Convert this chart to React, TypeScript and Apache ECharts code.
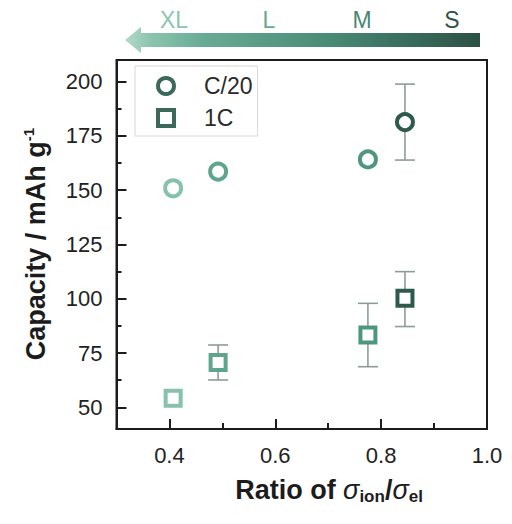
import React, { useEffect, useRef } from 'react';
import * as echarts from 'echarts';

// Particle size classes (top arrow), from largest to smallest
const sizeLabels = ['XL', 'L', 'M', 'S'];
const sizeLabelColors = ['#8ec3b0', '#66a892', '#4a8774', '#2f5447'];
const sizeColors = ['#86c1ab', '#5ea58c', '#4f9681', '#2e5a4d'];

// Ratio of sigma_ion / sigma_el
const ratio = [0.407, 0.492, 0.775, 0.845];

// Capacity at C/20
const capC20 = [150.9, 158.6, 164.2, 181.4];
const errC20Low = [150.9, 158.6, 164.2, 163.9];
const errC20High = [150.9, 158.6, 164.2, 198.9];

// Capacity at 1C
const cap1C = [54.2, 70.6, 83.3, 100.2];
const err1CLow = [54.2, 62.6, 68.7, 87.2];
const err1CHigh = [54.2, 78.7, 97.9, 112.5];

const yTicks = [50, 75, 100, 125, 150, 175, 200];
const yMinorTicks = [62.5, 87.5, 112.5, 137.5, 162.5, 187.5];
const xTicks = [0.4, 0.6, 0.8, 1.0];
const xMinorTicks = [0.5, 0.7, 0.9];

const seriesNames = ['C/20', '1C'];
const legendColor = '#3b6a5c';

const FONT = '"Liberation Sans", Arial, sans-serif';
const AXIS_COLOR = '#1c1c1c';

export default function App() {
  const ref = useRef<HTMLDivElement>(null);

  useEffect(() => {
    if (!ref.current) return;
    const chart = echarts.init(ref.current, null, { renderer: 'svg' });

    const gridRect = { left: 116.5, right: 25, top: 60, bottom: 95 };

    const errRender = (params: any, api: any) => {
      const x = api.value(0);
      const lo = api.value(1);
      const hi = api.value(2);
      if (lo === hi) return null;
      const pLo = api.coord([x, lo]);
      const pHi = api.coord([x, hi]);
      const hw = 10;
      const style = { stroke: '#8e9c97', lineWidth: 1.6 };
      return {
        type: 'group',
        children: [
          { type: 'line', shape: { x1: pLo[0], y1: pLo[1], x2: pHi[0], y2: pHi[1] }, style },
          { type: 'line', shape: { x1: pLo[0] - hw, y1: pLo[1], x2: pLo[0] + hw, y2: pLo[1] }, style },
          { type: 'line', shape: { x1: pHi[0] - hw, y1: pHi[1], x2: pHi[0] + hw, y2: pHi[1] }, style },
        ],
      };
    };

    const arrowPoints = [
      [125, 40], [141, 27], [141, 33], [480, 33], [480, 47], [141, 47], [141, 53],
    ];
    const labelX = [174, 269, 362, 452];

    const option: any = {
      animation: false,
      textStyle: { fontFamily: FONT },
      grid: [
        {
          ...gridRect,
          show: true,
          borderColor: AXIS_COLOR,
          borderWidth: 2,
          backgroundColor: 'transparent',
          outerBoundsMode: 'none',
        },
        { ...gridRect, show: false, outerBoundsMode: 'none' },
      ],
      xAxis: [
        {
          type: 'value',
          gridIndex: 0,
          min: 0.3,
          max: 1.0,
          splitLine: { show: false },
          axisLine: { show: true, lineStyle: { color: AXIS_COLOR, width: 2 } },
          axisTick: {
            show: true,
            inside: true,
            length: 10,
            customValues: xTicks,
            lineStyle: { color: AXIS_COLOR, width: 2 },
          },
          axisLabel: {
            customValues: xTicks,
            formatter: (v: number) => v.toFixed(1),
            fontSize: 22,
            color: '#222',
            margin: 15,
            fontFamily: FONT,
          },
        },
        {
          type: 'value',
          gridIndex: 1,
          min: 0.3,
          max: 1.0,
          splitLine: { show: false },
          axisLine: { show: false },
          axisLabel: { show: false },
          axisTick: {
            show: true,
            inside: true,
            length: 6,
            customValues: xMinorTicks,
            lineStyle: { color: AXIS_COLOR, width: 2 },
          },
        },
      ],
      yAxis: [
        {
          type: 'value',
          gridIndex: 0,
          min: 40,
          max: 210,
          splitLine: { show: false },
          axisLine: { show: true, lineStyle: { color: AXIS_COLOR, width: 2 } },
          axisTick: {
            show: true,
            inside: true,
            length: 10,
            customValues: yTicks,
            lineStyle: { color: AXIS_COLOR, width: 2 },
          },
          axisLabel: {
            customValues: yTicks,
            fontSize: 22,
            color: '#222',
            margin: 14,
            fontFamily: FONT,
          },
        },
        {
          type: 'value',
          gridIndex: 1,
          min: 40,
          max: 210,
          splitLine: { show: false },
          axisLine: { show: false },
          axisLabel: { show: false },
          axisTick: {
            show: true,
            inside: true,
            length: 5,
            customValues: yMinorTicks,
            lineStyle: { color: AXIS_COLOR, width: 2 },
          },
        },
      ],
      legend: {
        orient: 'vertical',
        left: 135,
        top: 66,
        padding: [8, 5, 6, 21],
        borderColor: '#d8d8d8',
        borderWidth: 1,
        itemWidth: 16,
        itemHeight: 16,
        itemGap: 8,
        selectedMode: false,
        textStyle: {
          fontSize: 23,
          color: '#2a2a2a',
          fontFamily: FONT,
          lineHeight: 24,
          padding: [0, 0, 0, 25],
        },
        data: [
          {
            name: seriesNames[0],
            icon: 'circle',
            itemStyle: { color: '#fff', borderColor: legendColor, borderWidth: 4 },
          },
          {
            name: seriesNames[1],
            icon: 'rect',
            itemStyle: { color: '#fff', borderColor: legendColor, borderWidth: 4 },
          },
        ],
      },
      series: [
        {
          name: 'errC20',
          type: 'custom',
          renderItem: errRender,
          encode: { x: 0, y: [1, 2] },
          z: 1,
          data: ratio.map((x, i) => [x, errC20Low[i], errC20High[i]]),
        },
        {
          name: 'err1C',
          type: 'custom',
          renderItem: errRender,
          encode: { x: 0, y: [1, 2] },
          z: 1,
          data: ratio.map((x, i) => [x, err1CLow[i], err1CHigh[i]]),
        },
        {
          name: seriesNames[0],
          type: 'scatter',
          symbol: 'circle',
          symbolSize: 16,
          z: 3,
          itemStyle: { color: '#fff', borderColor: legendColor, borderWidth: 4, opacity: 1 },
          data: ratio.map((x, i) => ({
            value: [x, capC20[i]],
            itemStyle: { borderColor: sizeColors[i] },
          })),
        },
        {
          name: seriesNames[1],
          type: 'scatter',
          symbol: 'rect',
          symbolSize: 15,
          z: 3,
          itemStyle: { color: '#fff', borderColor: legendColor, borderWidth: 4, opacity: 1 },
          data: ratio.map((x, i) => ({
            value: [x, cap1C[i]],
            itemStyle: { borderColor: sizeColors[i] },
          })),
        },
      ],
      graphic: [
        {
          type: 'polygon',
          shape: { points: arrowPoints },
          style: {
            fill: new echarts.graphic.LinearGradient(0, 0, 1, 0, [
              { offset: 0, color: '#b4dacb' },
              { offset: 0.07, color: '#8cc5b0' },
              { offset: 0.22, color: '#68ab95' },
              { offset: 0.55, color: '#4a8e7a' },
              { offset: 1, color: '#2c5044' },
            ]),
          },
        },
        ...sizeLabels.map((t, i) => ({
          type: 'text',
          x: labelX[i],
          y: 20,
          style: {
            text: t,
            fill: sizeLabelColors[i],
            fontSize: 23,
            fontFamily: FONT,
            align: 'center',
            verticalAlign: 'middle',
          },
        })),
        {
          type: 'text',
          x: 36,
          y: 244,
          rotation: Math.PI / 2,
          style: {
            text: '{b|Capacity / mAh g}{sup|-1}',
            align: 'center',
            verticalAlign: 'middle',
            rich: {
              b: { fontSize: 27, fontWeight: 'bold', fill: AXIS_COLOR, fontFamily: FONT },
              sup: {
                fontSize: 15,
                fontWeight: 'bold',
                fill: AXIS_COLOR,
                fontFamily: FONT,
                padding: [0, 0, 15, 0],
              },
            },
          },
        },
        {
          type: 'text',
          x: 329,
          y: 490,
          style: {
            text: '{b|Ratio of }{s|σ}{sub|ion}{b|/}{s|σ}{sub|el}',
            align: 'center',
            verticalAlign: 'middle',
            rich: {
              b: { fontSize: 27, fontWeight: 'bold', fill: AXIS_COLOR, fontFamily: FONT },
              s: {
                fontSize: 27,
                fontStyle: 'italic',
                fill: AXIS_COLOR,
                fontFamily: FONT,
              },
              sub: {
                fontSize: 17,
                fontWeight: 'bold',
                fill: AXIS_COLOR,
                fontFamily: FONT,
                padding: [13, 0, 0, 0],
              },
            },
          },
        },
      ],
    };

    chart.setOption(option);
    return () => chart.dispose();
  }, []);

  return (
    <div
      ref={ref}
      style={{ position: 'fixed', left: 0, top: 0, width: 512, height: 524, background: '#fff' }}
    />
  );
}
